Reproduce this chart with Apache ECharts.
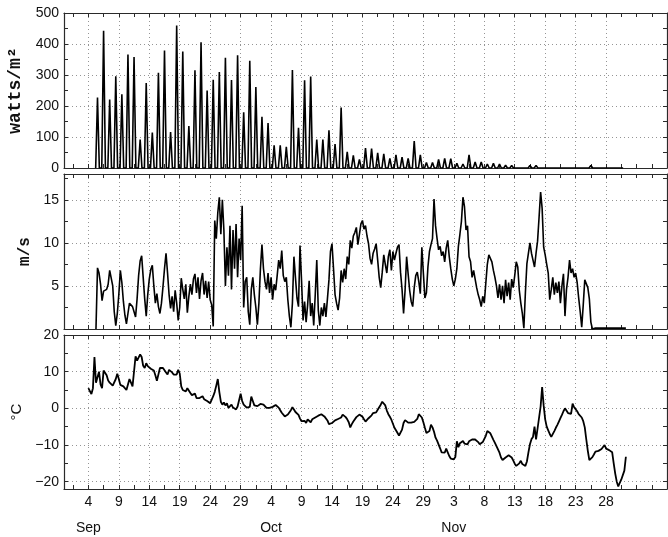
<!DOCTYPE html>
<html>
<head>
<meta charset="utf-8">
<script src="https://cdn.jsdelivr.net/npm/echarts@6/dist/echarts.min.js"></script>
<style>
html, body { margin: 0; padding: 0; background: #fff; }
#chart { width: 668px; height: 537px; }
</style>
</head>
<body>
<div id="chart"></div>
<script>
// x axis is in days counted from 31 Aug 00:00 (Sep 4 = 4, Oct 4 = 34, Nov 3 = 64)
var tickDays = [4, 9, 14, 19, 24, 29, 34, 39, 44, 49, 54, 59, 64, 69, 74, 79, 84, 89];
var tickLabels = ['4', '9', '14', '19', '24', '29', '4', '9', '14', '19', '24', '29', '3', '8', '13', '18', '23', '28'];
var monthDays = [4, 34, 64];
var monthLabels = ['Sep', 'Oct', 'Nov'];

// solar radiation: daily noon peak (watts/m2), first one on Sep 5
var solarFirstDay = 5;
var solarPeaks = [
	227, 443, 221, 296, 238, 366, 358, 92, 274, 114,
	307, 379, 116, 460, 376, 135, 315, 406, 250, 285,
	310, 356, 284, 364, 180, 346, 261, 165, 145, 73,
	73, 68, 316, 130, 283, 295, 92, 92, 122, 77,
	195, 52, 41, 28, 64, 63, 49, 46, 31, 42,
	35, 31, 87, 42, 18, 18, 28, 31, 30, 15,
	13, 42, 19, 19, 13, 15, 13, 9, 8, 6,
	5, 8, 8, 5, 5, 4, 5, 3, 3, 2,
	5, 8, 2, 2, 2, 2, 6
];

// wind speed (m/s), one reading every 6 hours from day 5.25
var windStart = 5.25, windStep = 0.25;
var windSpeed = [
	0, 7.1, 6.5, 5.2, 3.3, 4.4, 4.2, 4.6, 5.2, 6.8, 6.6, 5.0, 2.0, 0.4, 1.8, 4.0,
	6.8, 5.4, 3.2, 1.6, 0.6, 1.8, 3.0, 3.2, 2.6, 2.0, 1.4, 3.5, 6.2, 7.9, 8.5, 6.0,
	3.5, 1.5, 4.0, 5.8, 6.9, 7.4, 5.0, 3.0, 4.1, 2.6, 1.8, 3.0, 4.9, 7.0, 8.8, 6.5,
	4.0, 2.4, 3.8, 2.0, 4.5, 3.0, 1.0, 2.5, 5.9, 4.6, 3.5, 5.2, 1.9, 3.8, 5.2, 4.0,
	5.8, 6.4, 4.2, 6.0, 3.5, 5.6, 6.5, 4.0, 5.6, 3.6, 5.5, 3.4, 2.8, 0.3, 12.6, 10.5,
	13.5, 15.3, 11.0, 15.0, 11.5, 5.0, 9.5, 6.2, 12.0, 4.6, 11.5, 7.0, 12.2, 6.0, 10.5, 8.0,
	14.3, 2.5, 5.5, 6.0, 2.0, 0.5, 4.6, 6.0, 4.0, 2.5, 0.5, 3.0, 7.0, 9.8, 7.0,
	5.5, 4.6, 6.5, 4.2, 6.0, 3.4, 5.2, 4.5, 6.2, 8.0, 7.0, 9.1, 6.2, 5.5, 6.0, 3.4,
	1.5, 0.2, 3.0, 8.4, 6.0, 3.6, 2.6, 9.7, 5.6, 1.0, 3.2, 0.8, 2.8, 5.6, 1.5, 3.0,
	0.4, 4.0, 8.0, 2.2, 0.4, 2.5, 1.5, 3.0, 1.4, 3.5, 5.7, 9.0, 9.9, 7.0, 4.0, 3.0,
	2.2, 3.6, 6.8, 5.4, 7.0, 5.8, 8.4, 7.5, 10.3, 9.4, 10.8, 11.2, 11.8, 9.8, 11.0, 12.2,
	12.6, 11.6, 12.0, 10.8, 9.9, 8.2, 7.5, 8.8, 9.3, 9.9, 8.0, 6.0, 4.8, 6.6, 8.6, 7.5,
	6.5, 8.4, 9.2, 6.8, 9.0, 8.0, 8.8, 9.5, 9.8, 6.6, 4.6, 1.8, 4.5, 8.4, 6.4, 4.5,
	3.2, 2.6, 4.8, 6.2, 6.6, 5.5, 4.1, 9.5, 6.5, 3.6, 4.2, 7.2, 9.0, 9.8, 10.5, 15.1,
	12.0, 10.5, 9.2, 9.6, 8.5, 9.0, 7.8, 9.4, 10.3, 8.4, 7.0, 5.8, 5.0, 5.8, 7.0, 9.6,
	11.0, 12.5, 15.3, 14.2, 11.5, 12.0, 8.4, 7.8, 6.0, 6.8, 5.8, 4.8, 4.0, 3.4, 2.6, 3.8,
	3.0, 5.3, 7.5, 8.6, 8.2, 7.8, 6.8, 6.0, 5.0, 3.6, 5.2, 3.4, 5.0, 3.0, 5.7, 3.8,
	5.4, 3.4, 5.8, 4.8, 6.2, 7.8, 7.2, 4.5, 3.0, 1.8, 0.1, 4.2, 7.6, 8.8, 10.0, 8.8,
	8.0, 7.2, 8.8, 10.2, 13.0, 15.9, 14.0, 9.5, 8.6, 7.5, 6.5, 3.4, 4.6, 6.0, 4.0, 5.4,
	4.2, 5.5, 3.0, 5.0, 6.4, 1.5, 4.6, 6.0, 8.0, 6.5, 7.0, 6.0, 6.5, 5.4, 3.6, 2.0,
	0.2, 2.8, 5.7, 5.8, 4.8, 3.5, 0.8, 0,
	0.1, 0.1, 0.1, 0.1, 0.1, 0.1, 0.1, 0.1, 0.1, 0.1, 0.1,
	0.1, 0.1, 0.1, 0.1, 0.1, 0.1, 0.1, 0.1, 0.1, 0.1, 0.1
];

// air temperature (deg C), one reading every 6 hours from day 4
var tempStart = 4, tempStep = 0.25;
var airTemp = [
	5.5, 4.7, 3.9, 5.5, 14.0, 7.0, 6.8, 10.0, 6.5, 5.5, 10.3, 10.5, 9.0, 7.6, 7.0, 6.8,
	6.2, 6.5, 8.0, 9.4, 8.0, 6.4, 6.0, 6.0, 5.5, 5.0, 6.5, 8.0, 7.0, 6.0, 5.5, 14.2,
	13.0, 12.5, 14.7, 14.0, 11.6, 11.0, 12.3, 11.5, 11.0, 10.8, 10.6, 10.3, 9.0, 7.5, 7.0, 11.0,
	11.4, 11.0, 11.4, 9.8, 9.2, 10.5, 10.8, 9.8, 9.2, 9.6, 9.2, 10.5, 9.5, 6.0, 5.0, 4.6,
	4.6, 5.5, 5.0, 4.2, 3.6, 3.3, 4.0, 2.8, 3.2, 2.8, 2.8, 3.3, 2.5, 2.8, 2.0, 1.5,
	1.4, 2.4, 3.3, 4.5, 6.2, 8.0, 4.5, 1.8, 1.0, 1.6, 0.8, 1.4, 0.1, -0.3, 1.0, 0.2,
	0.5, -0.3, 0.5, 1.0, 4.0, 2.0, 1.0, 1.2, 0.2, -0.3, 0.4, 3.2, 2.0, 0.8, 0.5, 0.6,
	1.0, 1.2, 1.5, 1.0, 0.6, 0.1, -0.1, 0.1, 0.1, 0.4, 0.6, 0.9, 0.8, 0.2, -0.5, -1.2,
	-1.7, -2.2, -2.2, -1.7, -1.3, -0.5, 0.3, -0.3, -1.0, -1.3, -1.8, -2.8, -3.5, -3.0, -3.4, -4.0,
	-3.0, -3.3, -3.8, -3.0, -3.4, -2.5, -2.8, -2.0, -1.7, -1.6, -1.9, -2.2, -2.5, -3.3, -4.3, -4.6,
	-4.0, -3.6, -3.3, -3.0, -2.9, -3.1, -2.5, -1.7, -1.8, -2.4, -3.0, -3.8, -5.2, -4.3, -3.6, -3.3,
	-2.4, -1.9, -1.7, -1.8, -2.3, -3.0, -3.6, -3.2, -2.7, -2.3, -1.9, -1.3, -1.5, -1.1, -0.4, 0.3,
	1.0, 1.8, 1.8, 0.8, -0.6, -1.6, -2.3, -3.1, -4.2, -5.3, -6.0, -6.5, -7.4, -7.2, -5.8, -4.0,
	-3.2, -3.7, -3.9, -3.8, -3.9, -3.4, -3.7, -3.5, -2.9, -1.6, -1.8, -2.5, -3.8, -5.3, -6.7, -6.9,
	-6.2, -4.5, -5.2, -6.4, -8.0, -8.8, -9.0, -10.9, -12.0, -12.5, -12.1, -11.0, -12.0, -13.0, -13.7, -14.1,
	-13.9, -13.3, -9.0, -10.6, -9.5, -9.8, -8.9, -9.6, -9.4, -9.8, -9.0, -9.2, -8.5, -8.1, -8.5, -8.9,
	-9.2, -9.8, -9.4, -9.2, -8.7, -7.5, -6.2, -6.2, -6.8, -7.7, -8.6, -9.4, -10.3, -10.8, -12.1, -13.4,
	-14.1, -14.0, -13.4, -13.0, -12.8, -12.8, -13.4, -14.2, -15.1, -15.7, -16.2, -15.0, -14.3, -15.2, -15.0, -15.7,
	-14.5, -12.0, -9.8, -8.4, -7.8, -5.0, -8.5, -9.0, -2.5, 0.5, 5.8, 0.8, -3.0, -5.0, -6.0, -7.0,
	-7.8, -8.3, -6.2, -5.3, -4.5, -3.6, -2.7, -1.8, -0.8, 0, -0.5, -1.3, -1.7, -1.5, 1.3, 0.3,
	0, -0.8, -1.6, -2.1, -2.5, -3.5, -5.2, -8.5, -11.6, -14.1, -14.0, -13.3, -12.6, -11.8, -11.6, -11.6,
	-11.3, -11.1, -10.6, -10.0, -11.0, -10.7, -11.4, -11.2, -12.0, -15.0, -17.8, -20.0, -21.3, -20.3, -19.4, -18.9,
	-17.0, -13.2
];

// y axis values per panel
var solarTicks = [0, 50, 100, 150, 200, 250, 300, 350, 400, 450, 500];
var solarLabels = [0, 100, 200, 300, 400, 500];
var windTicks = [2.5, 5, 7.5, 10, 12.5, 15, 17.5];
var windLabels = [5, 10, 15];
var tempTicks = [-20, -15, -10, -5, 0, 5, 10, 15, 20];
var tempLabels = [-20, -10, 0, 10, 20];

var xMinor = [];
for (var d = 1.5; d < 99; d += 2.5) xMinor.push(d);

var axisColor = '#2a2a2a';
var labelFont = { fontFamily: 'Liberation Sans', fontSize: 14, color: '#111' };
var dotted = { show: true, lineStyle: { color: '#959595', width: 1, type: [1, 3] } };

function solarData() {
	var pts = [];
	solarPeaks.forEach(function (p, i) {
		var noon = solarFirstDay + i + 0.5;
		pts.push([noon - 0.3, 0], [noon, p], [noon + 0.3, 0]);
	});
	return pts;
}

function stepData(start, step, vals) {
	return vals.map(function (v, i) { return [start + i * step, v]; });
}

var panels = [
	{
		top: 13, height: 155, min: 0, max: 500,
		ticks: solarTicks, labels: solarLabels, grid: [100, 200, 300, 400],
		name: 'watts/m²', nameGap: 28, width: 1.6,
		nameStyle: { fontFamily: 'Liberation Mono', fontWeight: 'bold', fontSize: 18, color: '#111' },
		data: solarData()
	},
	{
		top: 174, height: 155, min: 0, max: 18,
		ticks: windTicks, labels: windLabels, grid: [5, 10, 15],
		name: 'm/s', nameGap: 27, width: 1.6,
		nameStyle: { fontFamily: 'Liberation Mono', fontWeight: 'bold', fontSize: 16, color: '#111' },
		data: stepData(windStart, windStep, windSpeed)
	},
	{
		top: 335, height: 154, min: -22, max: 20,
		ticks: tempTicks, labels: tempLabels, grid: [-20, -10, 0, 10],
		name: '°C', nameGap: 38, width: 1.8,
		nameStyle: { fontFamily: 'Liberation Sans', fontSize: 15, color: '#111' },
		data: stepData(tempStart, tempStep, airTemp)
	}
];

var option = {
	animation: false,
	backgroundColor: '#fff',
	grid: [],
	xAxis: [],
	yAxis: [],
	series: []
};

panels.forEach(function (p, gi) {
	option.grid.push({ left: 64, right: 1, top: p.top, height: p.height, outerBoundsMode: 'none' });

	var xi = option.xAxis.length;
	var yi = option.yAxis.length;
	var last = gi === panels.length - 1;

	// frame bottom / top with minor+major ticks
	['bottom', 'top'].forEach(function (pos) {
		option.xAxis.push({
			type: 'value', gridIndex: gi, min: 0, max: 99, position: pos,
			axisLine: { show: true, onZero: false, lineStyle: { color: axisColor, width: 1.2 } },
			axisTick: { show: true, inside: true, length: 4, customValues: xMinor, lineStyle: { color: axisColor } },
			axisLabel: {
				show: last && pos === 'bottom', customValues: tickDays, margin: 6,
				fontFamily: labelFont.fontFamily, fontSize: labelFont.fontSize, color: labelFont.color,
				formatter: function (v) {
					var k = tickDays.indexOf(Math.round(v));
					return k < 0 ? '' : tickLabels[k];
				}
			},
			splitLine: { show: false }
		});
	});
	// dotted grid lines
	option.xAxis.push({
		type: 'value', gridIndex: gi, min: 0, max: 99,
		axisLine: { show: false },
		axisTick: { show: false, customValues: tickDays },
		axisLabel: { show: false, customValues: tickDays },
		splitLine: dotted
	});

	['left', 'right'].forEach(function (pos) {
		option.yAxis.push({
			type: 'value', gridIndex: gi, min: p.min, max: p.max, position: pos,
			name: pos === 'left' ? p.name : '',
			nameLocation: 'middle', nameRotate: 90, nameGap: p.nameGap,
			nameTextStyle: p.nameStyle,
			axisLine: { show: true, onZero: false, lineStyle: { color: axisColor, width: 1.2 } },
			axisTick: { show: true, inside: true, length: 4, customValues: p.ticks, lineStyle: { color: axisColor } },
			axisLabel: {
				show: pos === 'left', customValues: p.labels, margin: 5,
				fontFamily: labelFont.fontFamily, fontSize: labelFont.fontSize, color: labelFont.color,
				formatter: function (v) { return String(v).replace('-', '\u2212'); }
			},
			splitLine: { show: false }
		});
	});
	option.yAxis.push({
		type: 'value', gridIndex: gi, min: p.min, max: p.max,
		axisLine: { show: false },
		axisTick: { show: false, customValues: p.grid },
		axisLabel: { show: false, customValues: p.grid },
		splitLine: dotted
	});

	option.series.push({
		type: 'line',
		xAxisIndex: xi,
		yAxisIndex: yi,
		data: p.data,
		showSymbol: false,
		silent: true,
		lineStyle: { color: '#000', width: p.width }
	});
});

// month names under the last panel
option.xAxis.push({
	type: 'value', gridIndex: 2, min: 0, max: 99, position: 'bottom', offset: 26,
	axisLine: { show: false },
	axisTick: { show: false },
	axisLabel: {
		customValues: monthDays, margin: 6,
		fontFamily: labelFont.fontFamily, fontSize: labelFont.fontSize, color: labelFont.color,
		formatter: function (v) {
			var k = monthDays.indexOf(Math.round(v));
			return k < 0 ? '' : monthLabels[k];
		}
	},
	splitLine: { show: false }
});

var chart = echarts.init(document.getElementById('chart'));
chart.setOption(option);
</script>
</body>
</html>
